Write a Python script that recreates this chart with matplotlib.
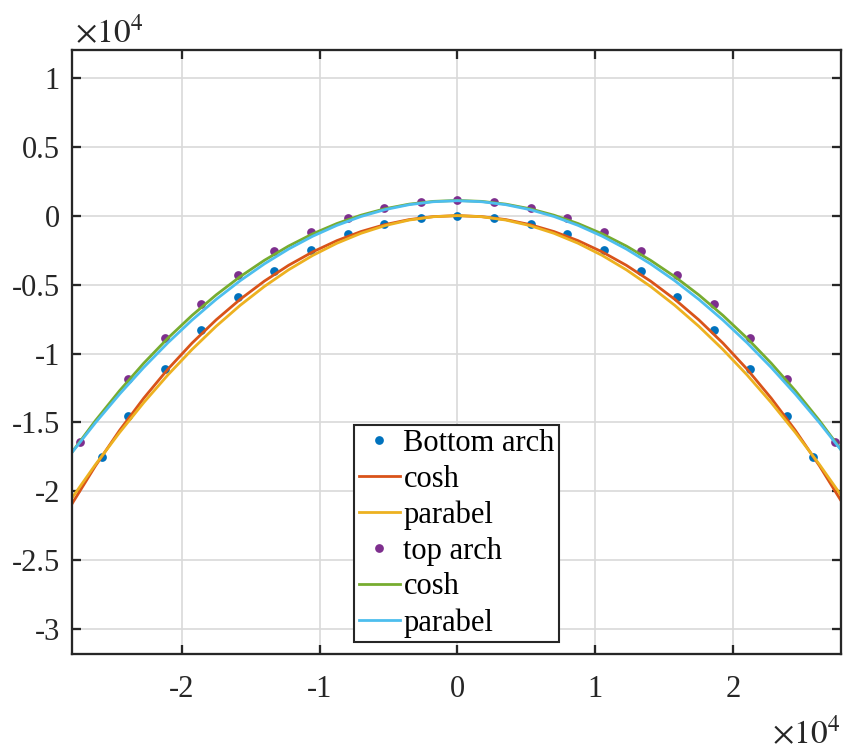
import matplotlib
matplotlib.use("Agg")
import matplotlib.pyplot as plt
from matplotlib.ticker import FuncFormatter, MultipleLocator

plt.rcParams['font.family'] = ['Liberation Serif', 'DejaVu Serif']
plt.rcParams['mathtext.fontset'] = 'stix'
plt.rcParams['axes.unicode_minus'] = False

# measured points of the two arches
x_bottom = [-25800, -23895, -21240, -18585, -15930, -13275, -10620, -7965, -5310, -2655, 0,
            2655, 5310, 7965, 10620, 13275, 15930, 18585, 21240, 23895, 25800]
y_bottom = [-17490, -14540, -11090, -8280, -5920, -4000, -2460, -1330, -580, -190, 0,
            -190, -580, -1330, -2460, -4000, -5920, -8280, -11090, -14540, -17490]

x_top = [-27350, -23895, -21240, -18585, -15930, -13275, -10620, -7965, -5310, -2655, 0,
         2655, 5310, 7965, 10620, 13275, 15930, 18585, 21240, 23895, 27350]
y_top = [-16400, -11880, -8910, -6430, -4300, -2590, -1180, -140, 560, 970, 1110,
         970, 560, -140, -1180, -2590, -4300, -6430, -8910, -11880, -16400]

# fitted curves
x_fit = [-28000, -26250, -24500, -22750, -21000, -19250, -17500, -15750, -14000,
         -12250, -10500, -8750, -7000, -5250, -3500, -1750, 0,
         1750, 3500, 5250, 7000, 8750, 10500, 12250, 14000,
         15750, 17500, 19250, 21000, 22750, 24500, 26250, 28000]
cosh_bottom = [-20976, -18145, -15571, -13240, -11135, -9246, -7559, -6062, -4748,
               -3606, -2632, -1817, -1157, -649, -288, -72, 0,
               -72, -288, -649, -1157, -1817, -2632, -3606, -4748,
               -6062, -7559, -9246, -11135, -13240, -15571, -18145, -20976]
parab_bottom = [-20541, -18053, -15727, -13560, -11554, -9709, -8024, -6499, -5135,
                -3932, -2889, -2006, -1284, -722, -321, -80, 0,
                -80, -321, -722, -1284, -2006, -2889, -3932, -5135,
                -6499, -8024, -9709, -11554, -13560, -15727, -18053, -20541]
cosh_top = [-17222, -14864, -12694, -10704, -8887, -7238, -5750, -4419, -3240,
            -2209, -1322, -577, 30, 499, 833, 1033, 1100,
            1033, 833, 499, 30, -577, -1322, -2209, -3240,
            -4419, -5750, -7238, -8887, -10704, -12694, -14864, -17222]
parab_top = [-17234, -15017, -12942, -11010, -9222, -7576, -6074, -4715, -3499,
             -2425, -1495, -709, -65, 436, 794, 1008, 1080,
             1008, 794, 436, -65, -709, -1495, -2425, -3499,
             -4715, -6074, -7576, -9222, -11010, -12942, -15017, -17234]

labels = ['Bottom arch', 'cosh', 'parabel', 'top arch', 'cosh', 'parabel']
colors = ['#0072BD', '#D95319', '#EDB120', '#7E2F8E', '#77AC30', '#4DBEEE']

W, H = 844, 753
fig = plt.figure(figsize=(W / 100, H / 100), dpi=100)
ax = fig.add_axes([72.3 / W, (H - 654) / H, 768.4 / W, 604 / H])

ax.plot(x_bottom, y_bottom, 'o', ms=6.3, mew=0, color=colors[0], label=labels[0])
ax.plot(x_fit, cosh_bottom, '-', lw=2.0, color=colors[1], label=labels[1])
ax.plot(x_fit, parab_bottom, '-', lw=2.0, color=colors[2], label=labels[2])
ax.plot(x_top, y_top, 'o', ms=6.3, mew=0, color=colors[3], label=labels[3])
ax.plot(x_fit, cosh_top, '-', lw=2.0, color=colors[4], label=labels[4])
ax.plot(x_fit, parab_top, '-', lw=2.0, color=colors[5], label=labels[5])

ax.set_xlim(-27930, 27790)
ax.set_ylim(-31790, 12010)
ax.xaxis.set_major_locator(MultipleLocator(10000))
ax.yaxis.set_major_locator(MultipleLocator(5000))
fmt = FuncFormatter(lambda v, p: f'{v / 1e4:g}')
ax.xaxis.set_major_formatter(fmt)
ax.yaxis.set_major_formatter(fmt)

ax.grid(True, color='#d9d9d9', linewidth=1.2)
ax.set_axisbelow(True)
for s in ax.spines.values():
    s.set_linewidth(1.65)
    s.set_color('#262626')
ax.tick_params(direction='in', length=6.5, width=1.65, top=True, right=True,
               labelsize=22, color='#262626', labelcolor='#262626')
ax.tick_params(axis='x', pad=15)
ax.tick_params(axis='y', pad=9)

# exponent labels like MATLAB
ax.text(0.004, 1.0116, r'$\times10^{4}$', transform=ax.transAxes, ha='left',
        va='baseline', fontsize=24, color='#262626')
ax.text(1.0, -0.105, r'$\times10^{4}$', transform=ax.transAxes, ha='right',
        va='top', fontsize=24, color='#262626')

leg = ax.legend(loc='lower left', bbox_to_anchor=(0.3666, 0.0194), borderaxespad=0,
                fontsize=22, handlelength=1.34, handletextpad=0.13, borderpad=0.15,
                labelspacing=0.22, fancybox=False, framealpha=1, edgecolor='#262626')
leg.get_frame().set_linewidth(1.5)

fig.savefig('out.png', dpi=100)
